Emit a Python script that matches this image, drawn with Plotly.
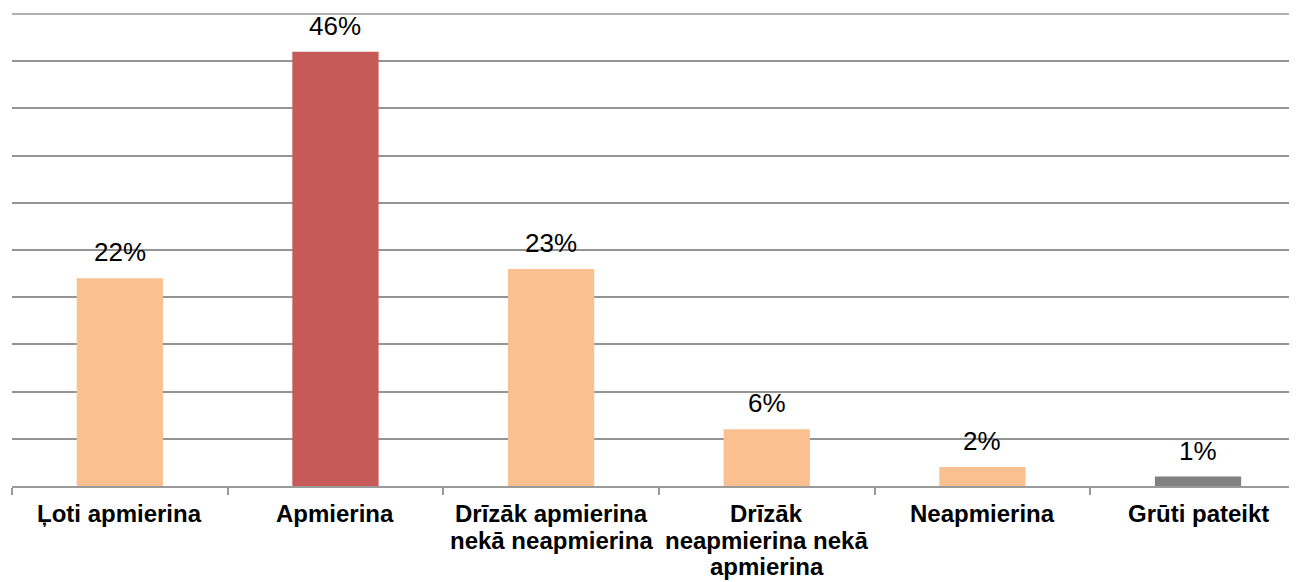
import plotly.graph_objects as go

categories = ["Ļoti apmierina", "Apmierina", "Drīzāk apmierina<br>nekā neapmierina",
              "Drīzāk<br>neapmierina nekā<br>apmierina", "Neapmierina", "Grūti pateikt"]
values = [22, 46, 23, 6, 2, 1]
value_labels = ["22%", "46%", "23%", "6%", "2%", "1%"]
bar_colors = ["#FAC090", "#C55A58", "#FAC090", "#FAC090", "#FAC090", "#808080"]

FONT = "Liberation Sans, Arial, sans-serif"
GRID = "#949494"

fig = go.Figure()
fig.add_trace(go.Bar(
    x=list(range(len(categories))), y=values,
    marker=dict(color=bar_colors, line=dict(width=0)),
    width=0.4, hoverinfo="skip",
))

# value labels above bars
for i, (v, lab) in enumerate(zip(values, value_labels)):
    fig.add_annotation(x=i, y=v, text=lab, showarrow=False, xref="x", yref="y",
                       yanchor="bottom", yshift=9,
                       font=dict(family=FONT, size=26, color="#000000"))

# category labels (one annotation per line for tight line spacing)
LINE_STEP = 26.5
for i, cat in enumerate(categories):
    for k, line in enumerate(cat.split("<br>")):
        fig.add_annotation(x=i, y=0, xref="x", yref="paper", text=f"<b>{line}</b>",
                           showarrow=False, yanchor="top", yshift=-12 - k * LINE_STEP,
                           font=dict(family=FONT, size=24, color="#000000"))

# top gridline on the plot's upper edge (plotly drops the gridline lying there)
fig.add_shape(type="line", xref="paper", yref="paper", x0=0, x1=1, y0=1, y1=1,
              line=dict(color=GRID, width=1.5), layer="below")

# page body has an 8px margin: figure sized so it fills the 1297x582 window exactly
fig.update_layout(
    width=1289, height=574,
    margin=dict(l=4, r=0, t=6, b=96, autoexpand=False),
    plot_bgcolor="white", paper_bgcolor="white",
    showlegend=False,
    font=dict(family=FONT, color="#000000"),
)
boundaries = [i - 0.5 for i in range(len(categories) + 1)]
fig.update_xaxes(
    range=[-0.5, 5.459], automargin=False,
    tickmode="array", tickvals=boundaries, ticktext=[""] * len(boundaries),
    showline=True, linecolor="#9a9a9a", linewidth=1.5,
    ticks="outside", ticklen=7, tickcolor="#9a9a9a", tickwidth=1.5,
    showgrid=False, zeroline=False,
)
fig.update_yaxes(
    range=[0, 50], dtick=5, tick0=0, showticklabels=False, automargin=False,
    showgrid=True, gridcolor=GRID, gridwidth=1.5,
    zeroline=False, showline=False,
)

fig.write_html("out.html")
